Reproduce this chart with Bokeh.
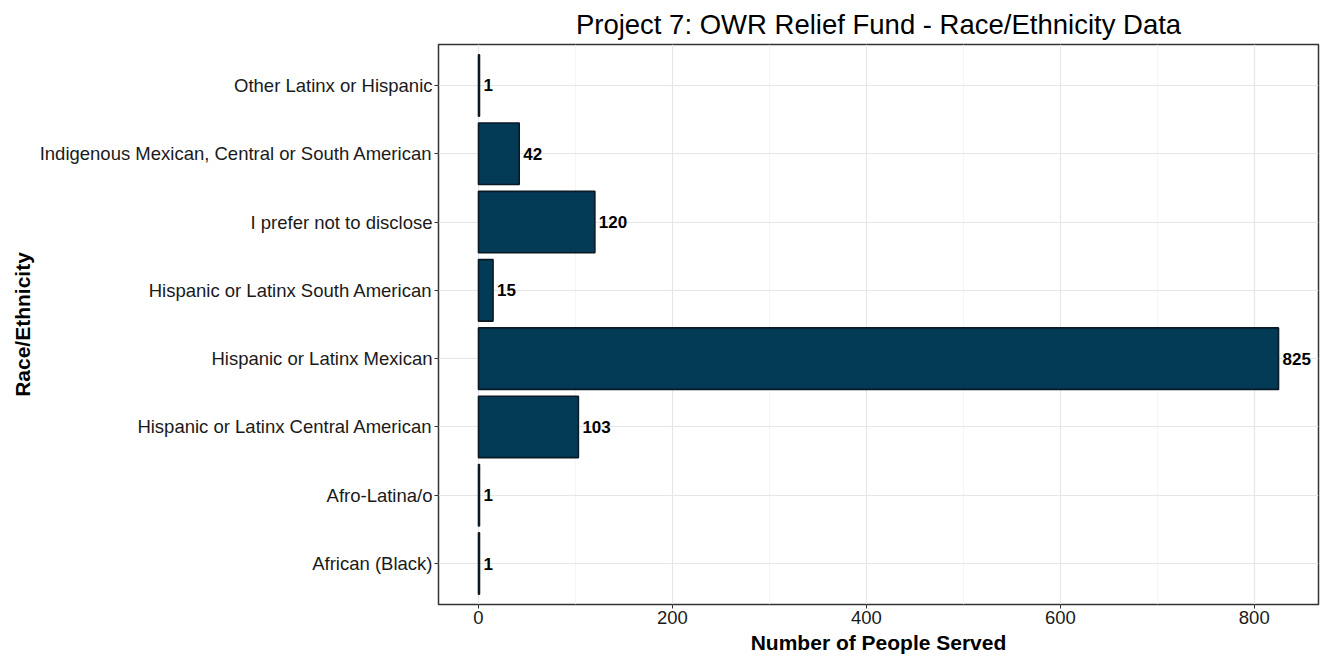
from bokeh.plotting import figure
from bokeh.models import ColumnDataSource, Range1d, FixedTicker
from bokeh.core.properties import value
from bokeh.embed import file_html
from bokeh.resources import INLINE

categories = [
    "African (Black)",
    "Afro-Latina/o",
    "Hispanic or Latinx Central American",
    "Hispanic or Latinx Mexican",
    "Hispanic or Latinx South American",
    "I prefer not to disclose",
    "Indigenous Mexican, Central or South American",
    "Other Latinx or Hispanic",
]
counts = [1, 1, 103, 825, 15, 120, 42, 1]
x_ticks = [0, 200, 400, 600, 800]
x_minor = [100, 300, 500, 700]

pos = list(range(1, len(categories) + 1))
src = ColumnDataSource(dict(y=pos, v=counts, lab=[str(c) for c in counts], cat=categories))

FONT = "Liberation Sans"

p = figure(width=1330, height=657, output_backend="svg", toolbar_location=None,
           x_range=Range1d(-41.25, 866.25), y_range=Range1d(0.4, 8.6),
           min_border_left=438, min_border_right=12, min_border_top=44, min_border_bottom=53,
           title="Project 7: OWR Relief Fund - Race/Ethnicity Data")

p.title.align = "center"
p.title.text_font = FONT
p.title.text_font_size = "27.5px"
p.title.text_font_style = "normal"
p.title.text_color = "#000000"
p.title.offset = 2

p.hbar(y="y", right="v", left=0, height=0.9, source=src,
       fill_color="#033a56", line_color="#0a1a24", line_width=1.6)

p.text(x="v", y="y", text="lab", source=src, x_offset=4,
       text_align="left", text_baseline="middle",
       text_font=value(FONT), text_font_size="17px", text_font_style="bold",
       text_color="#000000")

p.outline_line_color = "#333333"
p.outline_line_width = 1.5
p.background_fill_color = "white"
p.border_fill_color = "white"

p.xaxis.ticker = FixedTicker(ticks=x_ticks, minor_ticks=x_minor)
p.yaxis.ticker = FixedTicker(ticks=pos)
p.yaxis.major_label_overrides = {i: c for i, c in zip(pos, categories)}

for ax in (p.xaxis[0], p.yaxis[0]):
    ax.axis_line_color = None
    ax.major_tick_line_color = "#333333"
    ax.major_tick_out = 4
    ax.major_tick_in = 0
    ax.minor_tick_line_color = None
    ax.major_label_text_font = FONT
    ax.major_label_text_font_size = "18.5px"
    ax.major_label_text_color = "#1a1a1a"
    ax.axis_label_text_font = FONT
    ax.axis_label_text_font_size = "21px"
    ax.axis_label_text_font_style = "bold"
    ax.axis_label_text_color = "#000000"

p.xaxis.axis_label = "Number of People Served"
p.yaxis.axis_label = "Race/Ethnicity"
p.xaxis.major_label_standoff = 2
p.yaxis.major_label_standoff = 2
p.xaxis.axis_label_standoff = 4
p.yaxis.axis_label_standoff = 3

p.xgrid.grid_line_color = "#e6e6e6"
p.xgrid.grid_line_width = 1.2
p.xgrid.minor_grid_line_color = "#f2f2f2"
p.xgrid.minor_grid_line_width = 0.8
p.ygrid.grid_line_color = "#e6e6e6"
p.ygrid.grid_line_width = 1.2

open("out.html", "w").write(file_html(p, INLINE))
